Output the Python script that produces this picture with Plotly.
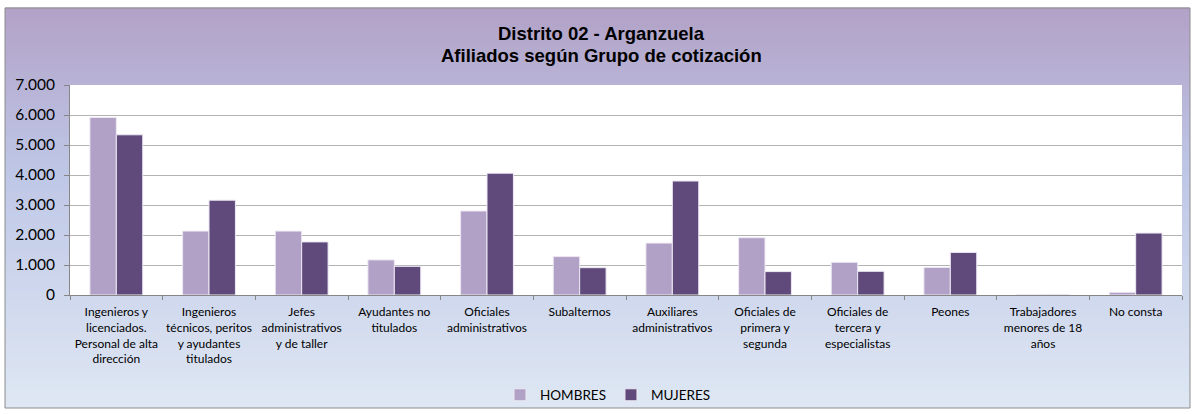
"""
Afiliados según Grupo de cotización - Distrito 02 Arganzuela
Grouped bar chart styled like an Excel chart frame
"""

import plotly.graph_objects as go

categories = [
    "Ingenieros y<br>licenciados.<br>Personal de alta<br>dirección",
    "Ingenieros<br>técnicos, peritos<br>y ayudantes<br>titulados",
    "Jefes<br>administrativos<br>y de taller",
    "Ayudantes no<br>titulados",
    "Oficiales<br>administrativos",
    "Subalternos",
    "Auxiliares<br>administrativos",
    "Oficiales de<br>primera y<br>segunda",
    "Oficiales de<br>tercera y<br>especialistas",
    "Peones",
    "Trabajadores<br>menores de 18<br>años",
    "No consta",
]
hombres = [5920, 2130, 2130, 1170, 2800, 1280, 1730, 1910, 1090, 920, 5, 90]
mujeres = [5340, 3160, 1770, 955, 4060, 910, 3800, 780, 790, 1420, 10, 2065]
y_ticks = [0, 1000, 2000, 3000, 4000, 5000, 6000, 7000]
title_lines = ["Distrito 02 - Arganzuela", "Afiliados según Grupo de cotización"]

W, H = 1195, 414
L, R, T, B = 70, 13, 85, 119
pw, ph = W - L - R, H - T - B


def px_to_paper(x, y):
    return (x - L) / pw, (H - B - y) / ph


def blend(c1, c2, t):
    return tuple(round(a + (b - a) * t) for a, b in zip(c1, c2))


fig = go.Figure()
fig.add_trace(go.Bar(name="HOMBRES", x=categories, y=hombres,
                     marker=dict(color="#B2A1C7", line=dict(color="#EDE8F3", width=1))))
fig.add_trace(go.Bar(name="MUJERES", x=categories, y=mujeres,
                     marker=dict(color="#604A7B", line=dict(color="#EDE8F3", width=1))))

# gradient frame background (purple at top -> pale blue at bottom)
top_c, mid_c, bot_c = (178, 162, 199), (190, 198, 230), (222, 231, 243)
fx0, fy0, fx1, fy1 = 5, 8, 1190, 408
n = 80
shapes = []
for i in range(n):
    ya = fy0 + (fy1 - fy0) * i / n
    yb = fy0 + (fy1 - fy0) * (i + 1) / n
    t = i / (n - 1)
    c = blend(top_c, mid_c, t / 0.4) if t < 0.4 else blend(mid_c, bot_c, (t - 0.4) / 0.6)
    x0, y0 = px_to_paper(fx0, yb)
    x1, y1 = px_to_paper(fx1, ya)
    shapes.append(dict(type="rect", xref="paper", yref="paper", x0=x0, x1=x1, y0=y0, y1=y1 + 0.002,
                       fillcolor="rgb(%d,%d,%d)" % c, line=dict(width=0), layer="below"))
# white plot area on top of the gradient
shapes.append(dict(type="rect", xref="paper", yref="paper", x0=0, x1=1, y0=0, y1=1,
                   fillcolor="white", line=dict(width=0), layer="below"))
x0, y0 = px_to_paper(fx0, fy1)
x1, y1 = px_to_paper(fx1, fy0)
shapes.append(dict(type="rect", xref="paper", yref="paper", x0=x0, x1=x1, y0=y0, y1=y1,
                   fillcolor="rgba(0,0,0,0)", line=dict(color="#8C8C8C", width=1), layer="below"))

annotations = []
for text, ypx in zip(title_lines, [34, 55]):
    ax, ay = px_to_paper(601, ypx)
    annotations.append(dict(text="<b>%s</b>" % text, xref="paper", yref="paper", x=ax, y=ay,
                            xanchor="center", yanchor="middle", showarrow=False,
                            font=dict(size=18.5, family="Liberation Sans, Arial, sans-serif",
                                      color="black")))

fig.update_layout(
    width=W, height=H,
    margin=dict(l=L, r=R, t=T, b=B, autoexpand=False),
    paper_bgcolor="white",
    plot_bgcolor="white",
    separators=",.",
    barmode="group",
    bargap=0.43,
    bargroupgap=0,
    shapes=shapes,
    annotations=annotations,
    font=dict(family="Lato, sans-serif", color="black"),
    legend=dict(
        orientation="h", x=px_to_paper(608, 0)[0], xanchor="center",
        y=px_to_paper(0, 395)[1], yanchor="middle",
        bgcolor="rgba(0,0,0,0)", font=dict(size=13.5, family="Lato, sans-serif"),
        itemwidth=30,
    ),
    xaxis=dict(
        showgrid=False, showline=True, linecolor="#868686", linewidth=1,
        ticks="outside", tickson="boundaries", ticklen=4, tickcolor="#868686",
        tickfont=dict(size=12, family="Lato, sans-serif"), tickangle=0,
        ticklabelstandoff=6,
    ),
    yaxis=dict(
        range=[0, 7000], tickvals=y_ticks, tickformat=",d",
        showgrid=True, gridcolor="#B3B3B3", gridwidth=1,
        showline=True, linecolor="#868686", linewidth=1,
        ticks="outside", ticklen=5, tickcolor="#868686",
        tickfont=dict(size=15.5, family="Lato, sans-serif"),
        ticklabelstandoff=6,
        zeroline=False,
    ),
)

# drop the browser's default body margin so the figure sits at the page origin
fig.write_html("out.html", config={"displayModeBar": False},
               post_script="document.body.style.margin='0px';")
